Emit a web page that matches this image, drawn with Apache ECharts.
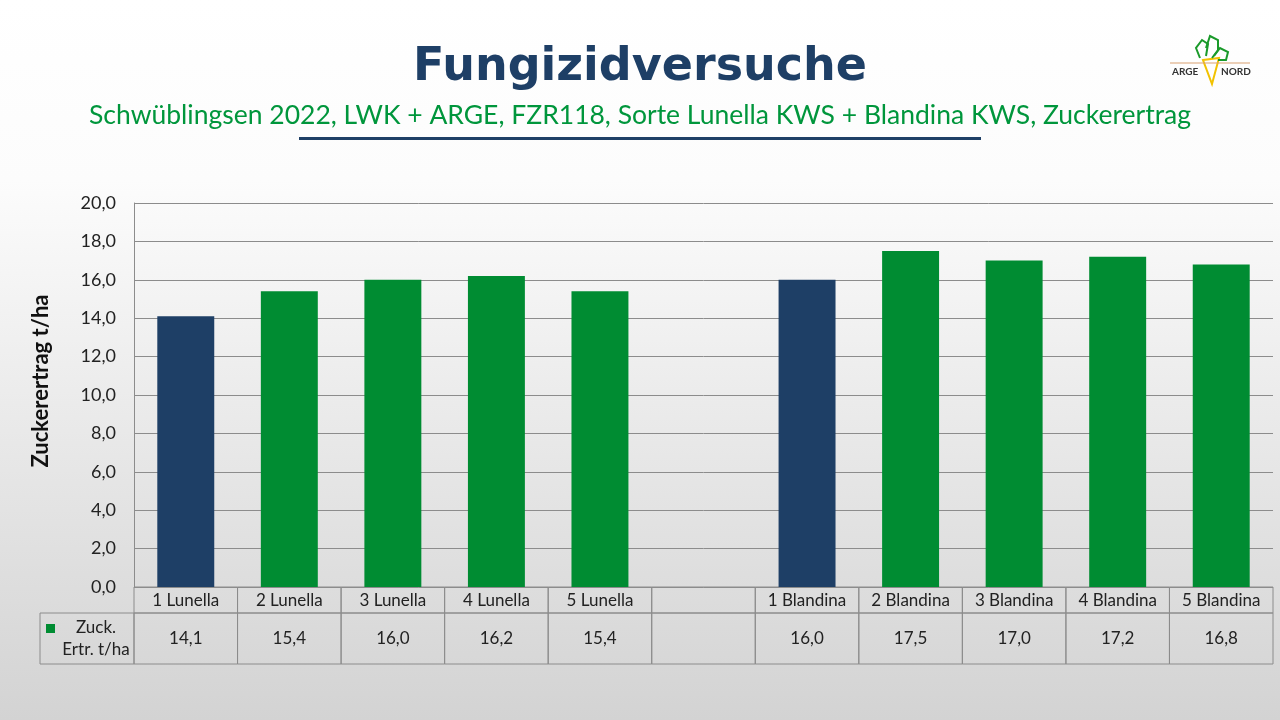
<!DOCTYPE html>
<html style="height: 100%">
<head>
    <meta charset="utf-8">
    <title>Fungizidversuche</title>
    <script src="https://cdn.jsdelivr.net/npm/echarts@6/dist/echarts.min.js"></script>
</head>
<body style="height: 100%; margin: 0">
<div id="chart1" style="width:1280px;height:720px"></div>

<script type="text/javascript">
    // Daten aus dem Diagramm
    var sorten = ['1 Lunella', '2 Lunella', '3 Lunella', '4 Lunella', '5 Lunella', '',
        '1 Blandina', '2 Blandina', '3 Blandina', '4 Blandina', '5 Blandina'];
    var zuckerertrag = [14.1, 15.4, 16.0, 16.2, 15.4, null, 16.0, 17.5, 17.0, 17.2, 16.8];
    // Kontrollvarianten (blau) je Sorte
    var kontrolle = ['1 Lunella', '1 Blandina'];
    var yTicks = [0, 2, 4, 6, 8, 10, 12, 14, 16, 18, 20];

    var blau = '#1e3f66';
    var gruen = '#008c32';
    var linie = '#8c8c8c';
    var schrift = 'Lato, "Open Sans", sans-serif';

    function komma(v) {
        return v == null ? '' : v.toFixed(1).replace('.', ',');
    }

    var myChart1 = echarts.init(document.getElementById('chart1'));

    var barData = zuckerertrag.map(function (v, i) {
        return {
            value: v,
            itemStyle: {color: kontrolle.indexOf(sorten[i]) >= 0 ? blau : gruen}
        };
    });

    var tabelle = sorten.map(function (s, i) {
        return [i, s, zuckerertrag[i]];
    });

    myChart1.setOption({
        backgroundColor: {
            type: 'linear', x: 0, y: 0, x2: 0, y2: 1,
            colorStops: [
                {offset: 0, color: '#ffffff'},
                {offset: 0.25, color: '#fcfcfc'},
                {offset: 1, color: '#d3d3d3'}
            ]
        },
        title: [{
            text: 'Fungizidversuche',
            left: 'center',
            top: 40,
            textStyle: {
                color: blau, fontSize: 46, fontWeight: 'bold',
                fontFamily: '"DejaVu Sans", sans-serif'
            }
        }, {
            text: 'Schwüblingsen 2022, LWK + ARGE, FZR118, Sorte Lunella KWS + Blandina KWS, Zuckerertrag',
            left: 'center',
            top: 97,
            textStyle: {color: '#00963c', fontSize: 26.5, fontWeight: 'normal', fontFamily: schrift}
        }],
        graphic: [
            {type: 'rect', shape: {x: 299, y: 137, width: 682, height: 3}, style: {fill: blau}},
            // Achsentitel
            {type: 'text', x: 41, y: 381, rotation: Math.PI / 2,
                style: {text: 'Zuckerertrag t/ha', fill: '#111', font: 'bold 22px ' + schrift,
                    textAlign: 'center', textVerticalAlign: 'middle'}},
            // Tabellenkopf links
            {type: 'rect', shape: {x: 40, y: 613, width: 94, height: 51},
                style: {fill: 'none', stroke: linie, lineWidth: 1}},
            {type: 'rect', shape: {x: 46, y: 624, width: 9, height: 9}, style: {fill: gruen}},
            {type: 'text', x: 96, y: 628, style: {text: 'Zuck.', fill: '#222', font: '17px ' + schrift,
                    textAlign: 'center', textVerticalAlign: 'middle'}},
            {type: 'text', x: 96, y: 650, style: {text: 'Ertr. t/ha', fill: '#222', font: '17px ' + schrift,
                    textAlign: 'center', textVerticalAlign: 'middle'}},
            // Logo ARGE NORD
            {type: 'polygon', shape: {points: [[1203, 60], [1219, 58], [1212, 84]]},
                style: {fill: 'none', stroke: '#f2c200', lineWidth: 2}},
            {type: 'polyline', shape: {points: [[1200, 58], [1196, 48], [1202, 40], [1208, 44], [1206, 56]]},
                style: {fill: 'none', stroke: '#1a9a2a', lineWidth: 2}},
            {type: 'polyline', shape: {points: [[1206, 48], [1210, 36], [1218, 40], [1218, 50], [1212, 58]]},
                style: {fill: 'none', stroke: '#1a9a2a', lineWidth: 2}},
            {type: 'polyline', shape: {points: [[1214, 56], [1220, 48], [1228, 52], [1226, 60], [1218, 60]]},
                style: {fill: 'none', stroke: '#1a9a2a', lineWidth: 2}},
            {type: 'line', shape: {x1: 1170, y1: 63, x2: 1250, y2: 63}, style: {stroke: '#d9a070', lineWidth: 1}},
            {type: 'text', x: 1172, y: 67, style: {text: 'ARGE', fill: '#333', font: 'bold 10px ' + schrift}},
            {type: 'text', x: 1221, y: 67, style: {text: 'NORD', fill: '#333', font: 'bold 10px ' + schrift}}
        ],
        grid: [
            {left: 134, right: 7, top: 203, height: 384},
            {left: 134, right: 7, top: 587, height: 77}
        ],
        xAxis: [{
            type: 'category',
            gridIndex: 0,
            data: sorten,
            axisLine: {show: false},
            axisTick: {show: false},
            axisLabel: {show: false}
        }, {
            type: 'category',
            gridIndex: 1,
            data: sorten,
            show: false
        }],
        yAxis: [{
            type: 'value',
            gridIndex: 0,
            min: yTicks[0],
            max: yTicks[yTicks.length - 1],
            interval: 2,
            axisLine: {show: true, lineStyle: {color: linie}},
            axisTick: {show: false},
            axisLabel: {
                color: '#222', fontSize: 18, fontFamily: schrift, margin: 18,
                formatter: function (v) { return komma(v); }
            },
            splitLine: {show: true, lineStyle: {color: linie, width: 1}}
        }, {
            type: 'value',
            gridIndex: 1,
            min: 0,
            max: 77,
            inverse: true,
            show: false
        }],
        series: [{
            name: 'Zuck. Ertr. t/ha',
            type: 'bar',
            xAxisIndex: 0,
            yAxisIndex: 0,
            barWidth: '55%',
            data: barData,
            silent: true
        }, {
            name: 'Tabelle',
            type: 'custom',
            xAxisIndex: 1,
            yAxisIndex: 1,
            silent: true,
            data: tabelle,
            renderItem: function (params, api) {
                var idx = api.value(0);
                var w = api.size([1, 0])[0];
                var cx = api.coord([idx, 0])[0];
                var y0 = api.coord([idx, 0])[1];
                var y1 = api.coord([idx, 26])[1];
                var y2 = api.coord([idx, 77])[1];
                var x0 = cx - w / 2;
                var s = tabelle[params.dataIndex];
                var st = {fill: 'none', stroke: linie, lineWidth: 1};
                return {
                    type: 'group',
                    children: [
                        {type: 'rect', shape: {x: x0, y: y0, width: w, height: y1 - y0}, style: st},
                        {type: 'rect', shape: {x: x0, y: y1, width: w, height: y2 - y1}, style: st},
                        {type: 'text', x: cx, y: (y0 + y1) / 2 + 1, style: {text: s[1], fill: '#222',
                                font: '17px ' + schrift, textAlign: 'center', textVerticalAlign: 'middle'}},
                        {type: 'text', x: cx, y: (y1 + y2) / 2, style: {text: komma(s[2]), fill: '#222',
                                font: '17px ' + schrift, textAlign: 'center', textVerticalAlign: 'middle'}}
                    ]
                };
            }
        }]
    });
</script>
</body>
</html>
